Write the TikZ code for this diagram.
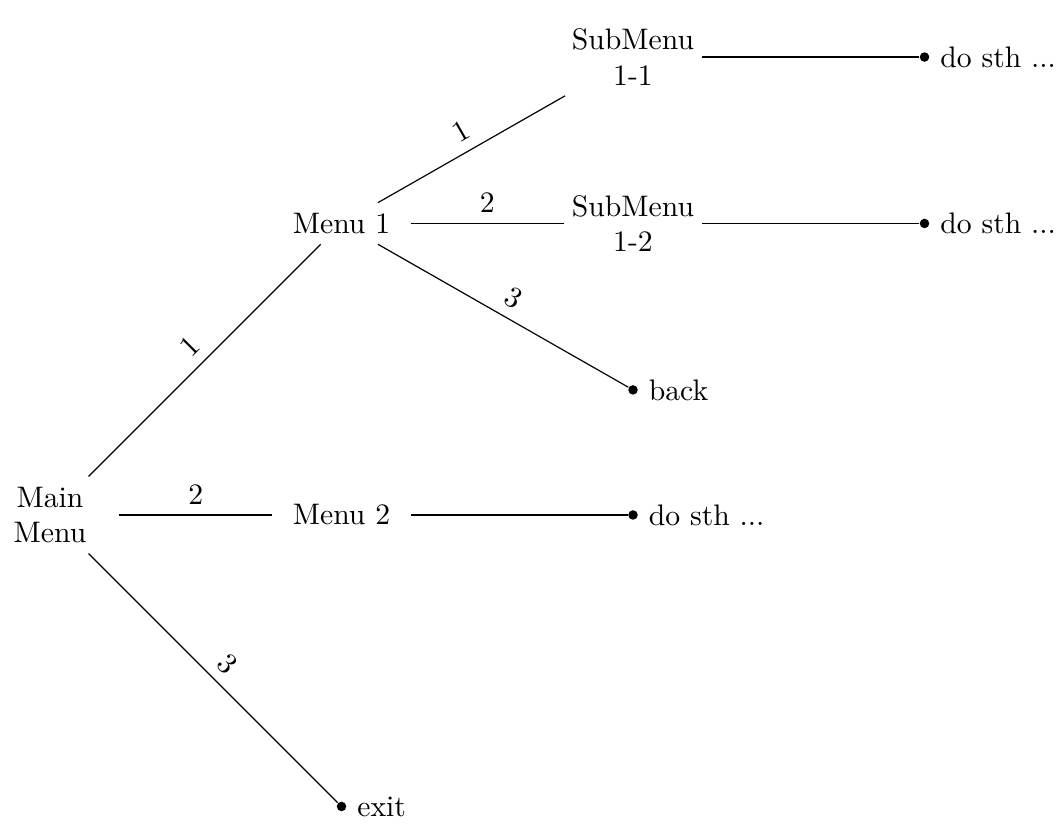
\documentclass[tikz,border=0pt]{standalone}
\usepackage{tikz}
\usetikzlibrary{positioning}

\begin{document}
\begin{tikzpicture}[
  node distance=3.45cm and 3.45cm, on grid,
  menu/.style={align=center, inner xsep=1pt, minimum width=1.62cm},
  leaf/.style={circle, fill, inner sep=0pt, minimum size=3.2pt},
  lbl/.style={midway, above, sloped}
]
\useasboundingbox (-0.592,-3.657) rectangle (11.93,6.095);
\node[menu] (main) {Main\\Menu};
\node[menu, above right=of main] (menu1) {Menu 1};
\node[menu, right=of main] (menu2) {Menu 2};
\node[leaf, below right=of main, label=right:exit] (exit) {};
\node[menu, above right=1.97cm and 3.45cm of menu1] (sub11) {SubMenu\\1-1};
\node[menu, right=of menu1] (sub12) {SubMenu\\1-2};
\node[leaf, below right=1.97cm and 3.45cm of menu1, label=right:back] (back) {};
\node[leaf, right=of menu2, label=right:do sth ...] (do2) {};
\node[leaf, right=of sub11, label=right:do sth ...] (do11) {};
\node[leaf, right=of sub12, label=right:do sth ...] (do12) {};

\draw (main) -- node[lbl]{1} (menu1);
\draw (main) -- node[lbl]{2} (menu2);
\draw (main) -- node[lbl]{3} (exit);
\draw (menu1) -- node[lbl]{1} (sub11);
\draw (menu1) -- node[lbl]{2} (sub12);
\draw (menu1) -- node[lbl]{3} (back);
\draw (menu2) -- (do2);
\draw (sub11) -- (do11);
\draw (sub12) -- (do12);
\end{tikzpicture}
\end{document}
